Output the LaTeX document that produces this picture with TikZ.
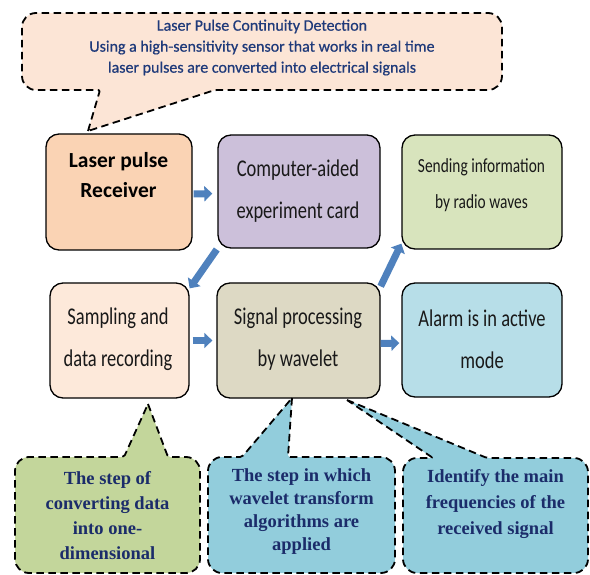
\documentclass[tikz,border=0pt]{standalone}
\usepackage{fontspec}
\setmainfont{Carlito}
\newfontfamily\narrowf[FakeStretch=0.77]{Carlito}
\newfontfamily\semib[FakeBold=0.6]{Carlito}
\newfontfamily\serifb{Liberation Serif}
\usetikzlibrary{arrows.meta}
\definecolor{laserfill}{HTML}{FAD3B4}
\definecolor{compfill}{HTML}{CCC0DA}
\definecolor{sendfill}{HTML}{D8E4BD}
\definecolor{sampfill}{HTML}{FDE9DA}
\definecolor{sigfill}{HTML}{DDD9C4}
\definecolor{alarmfill}{HTML}{B7DEE8}
\definecolor{topfill}{HTML}{FCE5D6}
\definecolor{greenfill}{HTML}{C3D69B}
\definecolor{bluefill}{HTML}{92CDDC}
\definecolor{arrowblue}{HTML}{4F81BD}
\definecolor{navy}{HTML}{1F3A7A}
\definecolor{navyb}{HTML}{1B2C6A}
\begin{document}
\begin{tikzpicture}[x=1pt,y=-1pt,
  box/.style={draw=black, line width=1.3pt, rounded corners=13pt, inner sep=0pt},
  boxtext/.style={align=center, font=\narrowf\fontsize{24}{42}\selectfont, text=black!90},
  barrow/.style={draw=arrowblue, line width=7pt, -{Triangle[width=15pt,length=8pt]}},
  callout/.style={draw=black, line width=1.8pt, dash pattern=on 7.5pt off 4.5pt, line join=round},
  calltext/.style={align=center, text=navyb, font=\serifb\bfseries\fontsize{18.5}{25}\selectfont}]
\useasboundingbox (0,0) rectangle (590,575);

% boxes
\node[box, fill=laserfill, minimum width=146pt, minimum height=116pt] (laser) at (119,192) {};
\node[box, fill=compfill, minimum width=162pt, minimum height=113pt] (comp) at (299,191.5) {};
\node[box, fill=sendfill, minimum width=160pt, minimum height=114pt] (send) at (482,192) {};
\node[box, fill=sampfill, minimum width=139pt, minimum height=115pt] (samp) at (119.5,340.5) {};
\node[box, fill=sigfill, minimum width=163pt, minimum height=115pt] (sig) at (298.5,340.5) {};
\node[box, fill=alarmfill, minimum width=160pt, minimum height=114pt] (alarm) at (482,340) {};

% box texts
\node[align=center, font=\bfseries\fontsize{21.5}{30}\selectfont] (laserT) at (118.5,175) {Laser pulse\\Receiver};
\node[boxtext] (compT) at (298,191) {Computer-aided\\experiment card};
\node[boxtext, font=\narrowf\fontsize{20}{36}\selectfont] (sendT) at (481.5,185) {Sending information\\by radio waves};
\node[boxtext] (sampT) at (118,339) {Sampling and\\data recording};
\node[boxtext] (sigT) at (298,339) {Signal processing\\by wavelet};
\node[boxtext] (alarmT) at (482,339) {Alarm is in active\\mode};

% arrows
\draw[barrow, shorten >=5pt, shorten <=1pt] ([yshift=-2pt]laser.east) -- ([yshift=-2pt]comp.west);
\draw[barrow, shorten >=4pt, shorten <=3pt] (samp.east) -- (sig.west);
\draw[barrow, shorten >=2pt] ([yshift=-3pt]sig.east) -- ([yshift=-3pt]alarm.west);
\draw[barrow, shorten <=1pt] (comp.south west) -- ([yshift=-6pt]samp.north east);
\draw[barrow, shorten <=0pt] ([yshift=-4pt]sig.north east) -- ([yshift=6pt]send.south west);

% top callout
\draw[callout, fill=topfill] (88,131) [rounded corners=2pt] -- (100,90) [rounded corners=14pt] -- (22,90) -- (22,13) -- (502,13) -- (502,90) [rounded corners=2pt] -- (215,90) [sharp corners] -- (88,131);
\node[align=center, text=navy, font=\semib\fontsize{16}{21}\selectfont] (topT) at (262,47.5) {Laser Pulse Continuity Detection\\Using a high-sensitivity sensor that works in real time\\laser pulses are converted into electrical signals};

% bottom callouts
\draw[callout, fill=greenfill] (148,404) [rounded corners=2pt] -- (168,457) [rounded corners=14pt] -- (200,457) -- (200,573) -- (15,573) -- (15,457) [rounded corners=2pt] -- (124,457) [sharp corners] -- (148,404);
\node[calltext] (greenT) at (107.5,515.5) {The step of\\converting data\\into one-\\dimensional};

\draw[callout, fill=bluefill] (292,398) [rounded corners=2pt] -- (288,457) [rounded corners=14pt] -- (395,457) -- (395,573) -- (208,573) -- (208,457) [rounded corners=2pt] -- (242,457) [sharp corners] -- (292,398);
\node[calltext, font=\serifb\bfseries\fontsize{18.5}{23}\selectfont] (midT) at (301.5,512) {The step in which\\wavelet transform\\algorithms are\\applied};

\draw[callout, fill=bluefill] (347,400) [rounded corners=2pt] -- (487,458) [rounded corners=14pt] -- (588,458) -- (588,573) -- (403,573) -- (403,458) [rounded corners=2pt] -- (433,458) [sharp corners] -- (347,400);
\node[calltext, font=\serifb\bfseries\fontsize{18.5}{26}\selectfont] (rightT) at (495.5,504) {Identify the main\\frequencies of the\\received signal};
\end{tikzpicture}
\end{document}
